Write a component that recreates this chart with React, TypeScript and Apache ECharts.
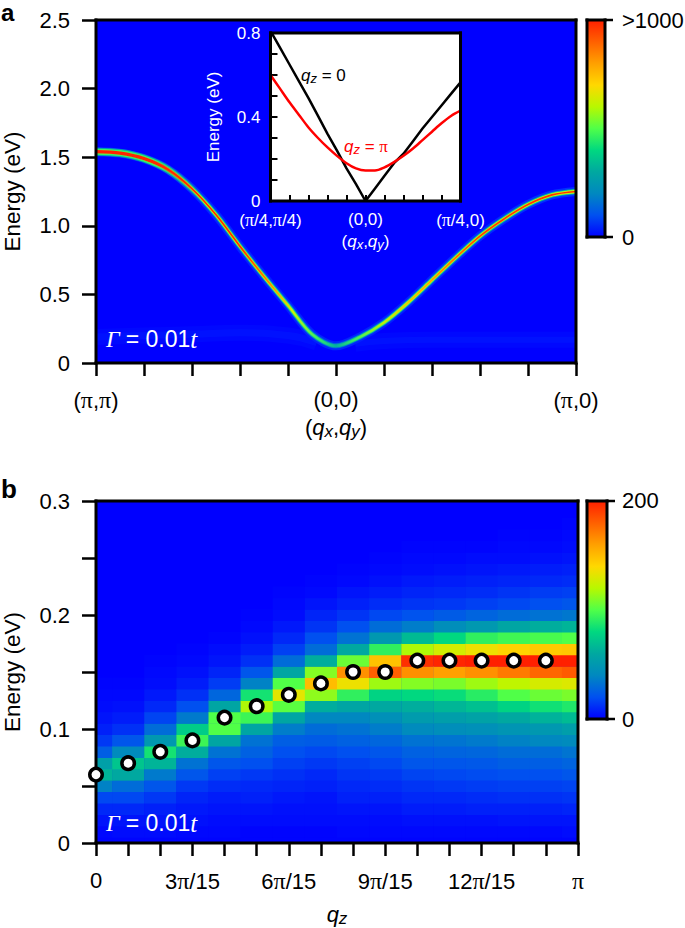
import React, { useEffect, useRef } from "react";
import * as echarts from "echarts";

const SANS = "'Liberation Sans', Arial, sans-serif";
const SERIF = "'Liberation Serif', serif";

// Panel a: ridge, one value every half tick
const ridgeQ = [0, 0.5, 1, 1.5, 2, 2.5, 3, 3.5, 4, 4.5, 5, 5.5, 6, 6.5, 7, 7.5, 8, 8.5, 9, 9.5, 10];
const ridgeEnergy = [1.54, 1.53, 1.49, 1.41, 1.27, 1.08, 0.85, 0.63, 0.42, 0.21, 0.125, 0.19, 0.295, 0.44, 0.605, 0.77, 0.925, 1.05, 1.155, 1.225, 1.25];
const bandLeftQ = [0, 1, 2, 3, 4, 4.6];
const bandLeftE = [0.19, 0.2, 0.21, 0.22, 0.2, 0.15];
const bandRightQ = [5.4, 6, 7, 8, 9, 10];
const bandRightE = [0.14, 0.16, 0.17, 0.17, 0.17, 0.17];
const panelAYTicks = [0, 0.5, 1, 1.5, 2, 2.5];

// Inset
const insetQ = [0, 0.5, 1, 1.5, 2, 2.5, 3, 3.5, 4, 4.5, 5, 5.5, 6, 6.5, 7, 7.5, 8, 8.5, 9, 9.5, 10];
const insetQz0 = [0.81, 0.73, 0.65, 0.57, 0.49, 0.405, 0.32, 0.24, 0.155, 0.08, 0, 0.06, 0.12, 0.18, 0.225, 0.285, 0.345, 0.4, 0.455, 0.51, 0.565];
const insetQzPi = [0.6, 0.535, 0.47, 0.41, 0.35, 0.3, 0.255, 0.215, 0.18, 0.155, 0.145, 0.145, 0.16, 0.185, 0.215, 0.25, 0.29, 0.33, 0.37, 0.405, 0.43];

// Panel b: intensity by q_z column; each array runs from E = 0 upwards in 0.01 eV rows
const col0 = [1, 2, 5, 10, 18, 38, 65, 55, 25, 14, 8, 5, 3, 2, 1];
const col1 = [1, 3, 5, 10, 18, 30, 60, 72, 42, 22, 12, 7, 4, 2, 1];
const col2 = [1, 3, 5, 8, 14, 22, 35, 65, 85, 50, 30, 17, 10, 6, 3, 2, 1];
const col3 = [1, 2, 4, 6, 9, 14, 22, 32, 62, 95, 75, 35, 20, 12, 7, 4, 2, 1];
const col4 = [1, 2, 3, 5, 7, 11, 16, 22, 32, 58, 100, 100, 58, 28, 15, 9, 5, 3, 1];
const col5 = [1, 1, 3, 5, 8, 10, 14, 20, 26, 32, 58, 95, 118, 85, 38, 22, 12, 7, 4, 2, 1];
const col6 = [1, 1, 3, 4, 6, 9, 12, 16, 20, 25, 36, 58, 102, 132, 100, 58, 30, 16, 10, 6, 3, 2, 1];
const col7 = [1, 1, 3, 4, 5, 8, 10, 14, 18, 24, 30, 40, 62, 112, 150, 110, 62, 30, 20, 13, 9, 5, 2, 1];
const col8 = [1, 2, 3, 5, 8, 10, 13, 16, 20, 26, 32, 40, 58, 92, 135, 165, 105, 60, 32, 20, 13, 8, 5, 2, 1];
const col9 = [1, 2, 3, 5, 8, 11, 14, 18, 22, 28, 36, 45, 60, 78, 115, 180, 148, 92, 50, 30, 18, 11, 7, 4, 2, 1];
const col10 = [1, 2, 4, 7, 10, 13, 17, 22, 26, 32, 42, 52, 62, 80, 110, 165, 195, 118, 68, 36, 21, 13, 9, 6, 3, 2, 1];
const col11 = [1, 2, 4, 7, 10, 14, 18, 22, 27, 33, 44, 54, 66, 82, 108, 160, 198, 127, 80, 44, 24, 14, 10, 7, 4, 2, 1];
const col12 = [1, 2, 4, 8, 11, 15, 19, 23, 28, 35, 45, 56, 70, 90, 115, 165, 200, 135, 92, 50, 27, 16, 11, 8, 5, 3, 1];
const col13 = [1, 2, 5, 8, 12, 16, 20, 25, 30, 38, 48, 60, 78, 100, 122, 172, 200, 142, 96, 58, 30, 18, 13, 9, 6, 3, 2, 1];
const col14 = [1, 2, 5, 8, 12, 16, 20, 25, 30, 40, 50, 64, 84, 105, 128, 178, 200, 145, 98, 62, 32, 20, 15, 10, 7, 4, 2, 1];
const col15 = [1, 3, 5, 9, 13, 17, 22, 27, 33, 42, 54, 68, 88, 108, 130, 182, 200, 146, 100, 65, 34, 22, 16, 11, 8, 5, 3, 2, 1];
const intensityColumns = [col0, col1, col2, col3, col4, col5, col6, col7, col8, col9, col10, col11, col12, col13, col14, col15];

const peakIndex = [0, 1, 2, 3, 4, 5, 6, 7, 8, 9, 10, 11, 12, 13, 14];
const peakEnergy = [0.06, 0.07, 0.08, 0.09, 0.11, 0.12, 0.13, 0.14, 0.15, 0.15, 0.16, 0.16, 0.16, 0.16, 0.16];

const qzTickLabels: Record<number, string> = { 0: "0", 3: "3{p|π}/15", 6: "6{p|π}/15", 9: "9{p|π}/15", 12: "12{p|π}/15", 15: "{p|π}" };
const qxyTickLabels: Record<number, string> = { 0: "({p|π},{p|π})", 5: "(0,0)", 10: "({p|π},0)" };
const insetTickLabels: Record<number, string> = { 0: "({p|π}/4,{p|π}/4)", 5: "(0,0)", 10: "({p|π}/4,0)" };

const jet = ["#0000ff", "#0050f0", "#0088c0", "#00a8a0", "#00d880", "#50ff48", "#b8f800", "#ffd800", "#ffa000", "#ff6000", "#ff2000"];

const grad = (stops: [number, string][]) => ({
  type: "linear", x: 0, y: 0, x2: 1, y2: 0,
  colorStops: stops.map(([offset, color]) => ({ offset, color })),
});

const zip = (a: number[], b: number[]) => a.map((v, i) => [v, b[i]]);

function buildOption() {
  const heat: number[][] = [];
  intensityColumns.forEach((col, c) => col.forEach((v, r) => heat.push([c, r * 0.01, v])));

  const black = { color: "#000", width: 2.5 };
  const yLabel = (v: number, digits: number) => (Math.abs(v) < 1e-9 ? "0" : v.toFixed(digits));
  const richP = { p: { fontFamily: SERIF, fontSize: 24, color: "#000" } };
  const qRich = (color: string, size: number, subSize: number) => ({
    q: { fontFamily: SANS, fontStyle: "italic", fontSize: size, color, lineHeight: size + 3 },
    s: { fontFamily: SANS, fontStyle: "italic", fontSize: subSize, color, verticalAlign: "bottom", lineHeight: subSize },
    n: { fontFamily: SANS, fontSize: size, color, lineHeight: size + 3 },
    p: { fontFamily: SERIF, fontSize: size, color, lineHeight: size + 3 },
  });

  const ridge = (width: number, stops: [number, string][]) => ({
    type: "line", xAxisIndex: 0, yAxisIndex: 0, data: zip(ridgeQ, ridgeEnergy), symbol: "none", smooth: 0.3,
    clip: true, lineStyle: { width, color: grad(stops), cap: "butt" }, z: 3,
  });
  const band = (x: number[], y: number[], width: number, opacity: number) => ({
    type: "line", xAxisIndex: 0, yAxisIndex: 0, data: zip(x, y), symbol: "none", smooth: 0.5,
    lineStyle: { width, color: "#0050ff", opacity }, z: 2,
  });

  const solid = (x: number, y: number, width: number, height: number) => ({
    type: "rect", z: 100, silent: true, shape: { x, y, width, height }, style: { fill: "#000000" },
  });
  const frame = (x: number, y: number, width: number, height: number, t = 3) => [
    solid(x - t / 2, y - t / 2, width + t, t),
    solid(x - t / 2, y + height - t / 2, width + t, t),
    solid(x - t / 2, y - t / 2, t, height + t),
    solid(x + width - t / 2, y - t / 2, t, height + t),
  ];
  const bar = (x: number, y: number, width: number, height: number) => ({
    type: "rect", z: 90, silent: true, shape: { x, y, width, height },
    style: {
      fill: {
        type: "linear", x: 0, y: 1, x2: 0, y2: 0,
        colorStops: jet.map((color, i) => ({ offset: i / (jet.length - 1), color })),
      },
    },
  });
  const tick = (x1: number, x2: number, y: number) => solid(x1, y - 1.25, x2 - x1, 2.5);
  const label = (x: number, y: number, text: string, extra: any = {}) => ({
    type: "text", z: 110, silent: true, x, y,
    style: { text, fontFamily: SANS, fontSize: 22, fill: "#000", verticalAlign: "middle", ...extra },
  });
  const gammaRich = {
    g: { fontFamily: SERIF, fontStyle: "italic", fontSize: 24, color: "#fff" },
    n: { fontFamily: SANS, fontSize: 23, color: "#fff" },
    t: { fontFamily: SERIF, fontStyle: "italic", fontSize: 25, color: "#fff" },
  };

  return {
    animation: false,
    backgroundColor: "#fff",
    textStyle: { fontFamily: SANS },
    grid: [
      { left: 96, top: 20, width: 480, height: 343, show: true, backgroundColor: "#0000ff", borderWidth: 0, outerBoundsMode: "none" },
      { left: 270.5, top: 33, width: 190, height: 168, show: true, backgroundColor: "#fff", borderWidth: 0, outerBoundsMode: "none" },
      { left: 96, top: 501, width: 482, height: 342, show: true, backgroundColor: "#0000ff", borderWidth: 0, outerBoundsMode: "none" },
    ],
    xAxis: [
      {
        gridIndex: 0, type: "value", min: 0, max: 10, interval: 1, splitLine: { show: false },
        axisLine: { show: false }, axisTick: { length: 13, lineStyle: black },
        axisLabel: { margin: 25, fontSize: 22, color: "#000", fontFamily: SANS, rich: richP, formatter: (v: number) => qxyTickLabels[v] ?? "" },
        name: "({q|q}{s|x},{q|q}{s|y})", nameLocation: "middle", nameGap: 52,
        nameTextStyle: { fontSize: 22, color: "#000", fontFamily: SANS, rich: qRich("#000", 22, 17) },
      },
      {
        gridIndex: 1, type: "value", min: 0, max: 10, interval: 1, splitLine: { show: false },
        axisLine: { show: false }, axisTick: { inside: true, length: 6, lineStyle: { color: "#000", width: 2 } },
        axisLabel: {
          margin: 10, fontSize: 17, color: "#fff", fontFamily: SANS, rich: { p: { fontFamily: SERIF, fontSize: 18, color: "#fff" } },
          formatter: (v: number) => insetTickLabels[v] ?? "",
        },
        name: "({q|q}{s|x},{q|q}{s|y})", nameLocation: "middle", nameGap: 30,
        nameTextStyle: { fontSize: 17, color: "#fff", fontFamily: SANS, rich: qRich("#fff", 17, 13) },
      },
      {
        gridIndex: 2, type: "value", min: 0, max: 15, interval: 1, splitLine: { show: false },
        axisLine: { show: false }, axisTick: { length: 13, lineStyle: black },
        axisLabel: { margin: 26, fontSize: 22, color: "#000", fontFamily: SANS, rich: richP, formatter: (v: number) => qzTickLabels[v] ?? "" },
        name: "{q|q}{s|z}", nameLocation: "middle", nameGap: 59,
        nameTextStyle: { fontSize: 22, color: "#000", fontFamily: SANS, rich: qRich("#000", 22, 17) },
      },
    ],
    yAxis: [
      {
        gridIndex: 0, type: "value", min: panelAYTicks[0], max: panelAYTicks[panelAYTicks.length - 1], interval: 0.5, splitLine: { show: false },
        axisLine: { show: false }, axisTick: { length: 14, lineStyle: black },
        axisLabel: { margin: 26, fontSize: 22, color: "#000", fontFamily: SANS, formatter: (v: number) => yLabel(v, 1) },
        name: "Energy (eV)", nameLocation: "middle", nameGap: 72,
        nameTextStyle: { fontSize: 22.5, color: "#000", fontFamily: SANS },
      },
      {
        gridIndex: 1, type: "value", min: 0, max: 0.8, interval: 0.1, splitLine: { show: false },
        axisLine: { show: false }, axisTick: { inside: true, length: 7, lineStyle: { color: "#000", width: 2 } },
        axisLabel: {
          margin: 10, fontSize: 17, color: "#fff", fontFamily: SANS,
          formatter: (v: number) => (Math.round(v * 10) % 4 === 0 ? yLabel(v, 1) : ""),
        },
        name: "Energy (eV)", nameLocation: "middle", nameGap: 49,
        nameTextStyle: { fontSize: 17, color: "#fff", fontFamily: SANS },
      },
      {
        gridIndex: 2, type: "value", min: 0, max: 0.3, interval: 0.05, splitLine: { show: false },
        axisLine: { show: false }, axisTick: { length: 14, lineStyle: black },
        axisLabel: {
          margin: 26, fontSize: 22, color: "#000", fontFamily: SANS,
          formatter: (v: number) => {
            const k = Math.round(v * 100);
            return k % 10 === 0 ? yLabel(v, 1) : "";
          },
        },
        name: "Energy (eV)", nameLocation: "middle", nameGap: 72,
        nameTextStyle: { fontSize: 22.5, color: "#000", fontFamily: SANS },
      },
    ],
    visualMap: [
      { type: "continuous", show: false, seriesIndex: 0, dimension: 2, min: 0, max: 200, inRange: { color: jet } },
    ],
    series: [
      {
        type: "custom", xAxisIndex: 2, yAxisIndex: 2, data: heat, clip: true, encode: { x: 0, y: 1 }, z: 1,
        renderItem: (_p: any, api: any) => {
          const a = api.coord([api.value(0) - 0.5, api.value(1) - 0.005]);
          const b = api.coord([api.value(0) + 0.5, api.value(1) + 0.005]);
          return {
            type: "rect",
            shape: { x: a[0], y: b[1], width: b[0] - a[0] + 0.4, height: a[1] - b[1] + 0.4 },
            style: { fill: api.visual("color") },
          };
        },
      },
      {
        type: "scatter", xAxisIndex: 2, yAxisIndex: 2, data: zip(peakIndex, peakEnergy), symbolSize: 12.5, clip: false, z: 200, zlevel: 0,
        itemStyle: { color: "#fff", borderColor: "#000", borderWidth: 3.5, opacity: 1 },
      },
      band(bandLeftQ, bandLeftE, 16, 0.1),
      band(bandLeftQ, bandLeftE, 7, 0.14),
      band(bandRightQ, bandRightE, 16, 0.1),
      band(bandRightQ, bandRightE, 6, 0.14),
      ridge(9, [[0, "#0030ff"], [0.4, "#0020ff"], [0.5, "#0028f8"], [0.6, "#0020ff"], [1, "#0030ff"]]),
      ridge(8, [[0, "rgba(0,160,176,1)"], [0.12, "rgba(0,160,176,1)"], [0.22, "rgba(0,160,176,0)"], [1, "rgba(0,160,176,0)"]]),
      ridge(5.5, [[0, "#00a0b0"], [0.38, "#0070d8"], [0.5, "#0050f0"], [0.62, "#0070d8"], [1, "#00a0b0"]]),
      ridge(6, [[0, "rgba(64,240,96,1)"], [0.12, "rgba(64,240,96,1)"], [0.22, "rgba(64,240,96,0)"], [1, "rgba(64,240,96,0)"]]),
      ridge(4, [[0, "#40f060"], [0.38, "#20e080"], [0.46, "#00b0a0"], [0.5, "#0090b8"], [0.54, "#00b0a0"], [0.62, "#20e080"], [1, "#40f060"]]),
      ridge(2.8, [[0, "#e8f000"], [0.36, "#d0f000"], [0.44, "#40f060"], [0.5, "#00b0a0"], [0.56, "#40f060"], [0.66, "#d0f000"], [1, "#e8f000"]]),
      ridge(3.2, [[0, "rgba(255,32,0,1)"], [0.12, "rgba(255,32,0,1)"], [0.22, "rgba(255,32,0,0)"], [1, "rgba(255,32,0,0)"]]),
      ridge(1.7, [[0, "#ff2000"], [0.3, "#ff3000"], [0.36, "#ff8000"], [0.41, "#d8f000"], [0.46, "#40f060"], [0.5, "#00b0a0"], [0.54, "#40f060"], [0.6, "#c8f000"], [0.68, "#ffb000"], [0.8, "#ff4000"], [1, "#ff3000"]]),
      {
        type: "line", xAxisIndex: 1, yAxisIndex: 1, data: zip(insetQ, insetQz0), symbol: "none", clip: true,
        lineStyle: { color: "#000", width: 2.5 }, z: 5,
      },
      {
        type: "line", xAxisIndex: 1, yAxisIndex: 1, data: zip(insetQ, insetQzPi), symbol: "none", clip: true, smooth: 0.3,
        lineStyle: { color: "#ff0000", width: 2.5 }, z: 6,
      },
    ],
    graphic: [
      ...frame(96, 20, 480, 343),
      ...frame(270.5, 33, 190, 168),
      ...frame(96, 501, 482, 342),
      bar(587, 20, 18, 217),
      ...frame(587, 20, 18, 217),
      tick(605, 613, 20),
      tick(605, 613, 237),
      bar(587, 501, 20, 218),
      ...frame(587, 501, 20, 218),
      tick(607, 615, 501),
      tick(607, 615, 719),
      label(622, 20, ">1000"),
      label(622, 237, "0"),
      label(622, 500, "200"),
      label(622, 719, "0"),
      label(1, 12, "a", { fontWeight: "bold", fontSize: 24 }),
      label(1, 489, "b", { fontWeight: "bold", fontSize: 26 }),
      label(106, 339, "{g|Γ} {n|= 0.01}{t|t}", { rich: gammaRich, fill: "#fff" }),
      label(106, 823, "{g|Γ} {n|= 0.01}{t|t}", { rich: gammaRich, fill: "#fff" }),
      label(301, 75, "{q|q}{s|z}{n| = 0}", { rich: qRich("#000", 17, 13), fontSize: 17 }),
      label(344, 146, "{q|q}{s|z}{n| = }{p|π}", { rich: qRich("#ff0000", 17, 13), fontSize: 17, fill: "#ff0000" }),
    ],
  };
}

export default function App() {
  const ref = useRef<HTMLDivElement>(null);
  useEffect(() => {
    const chart = echarts.init(ref.current!, undefined, { renderer: "svg" });
    chart.setOption(buildOption() as any);
    return () => chart.dispose();
  }, []);
  return <div ref={ref} style={{ position: "absolute", left: 0, top: 0, width: 685, height: 928 }} />;
}
